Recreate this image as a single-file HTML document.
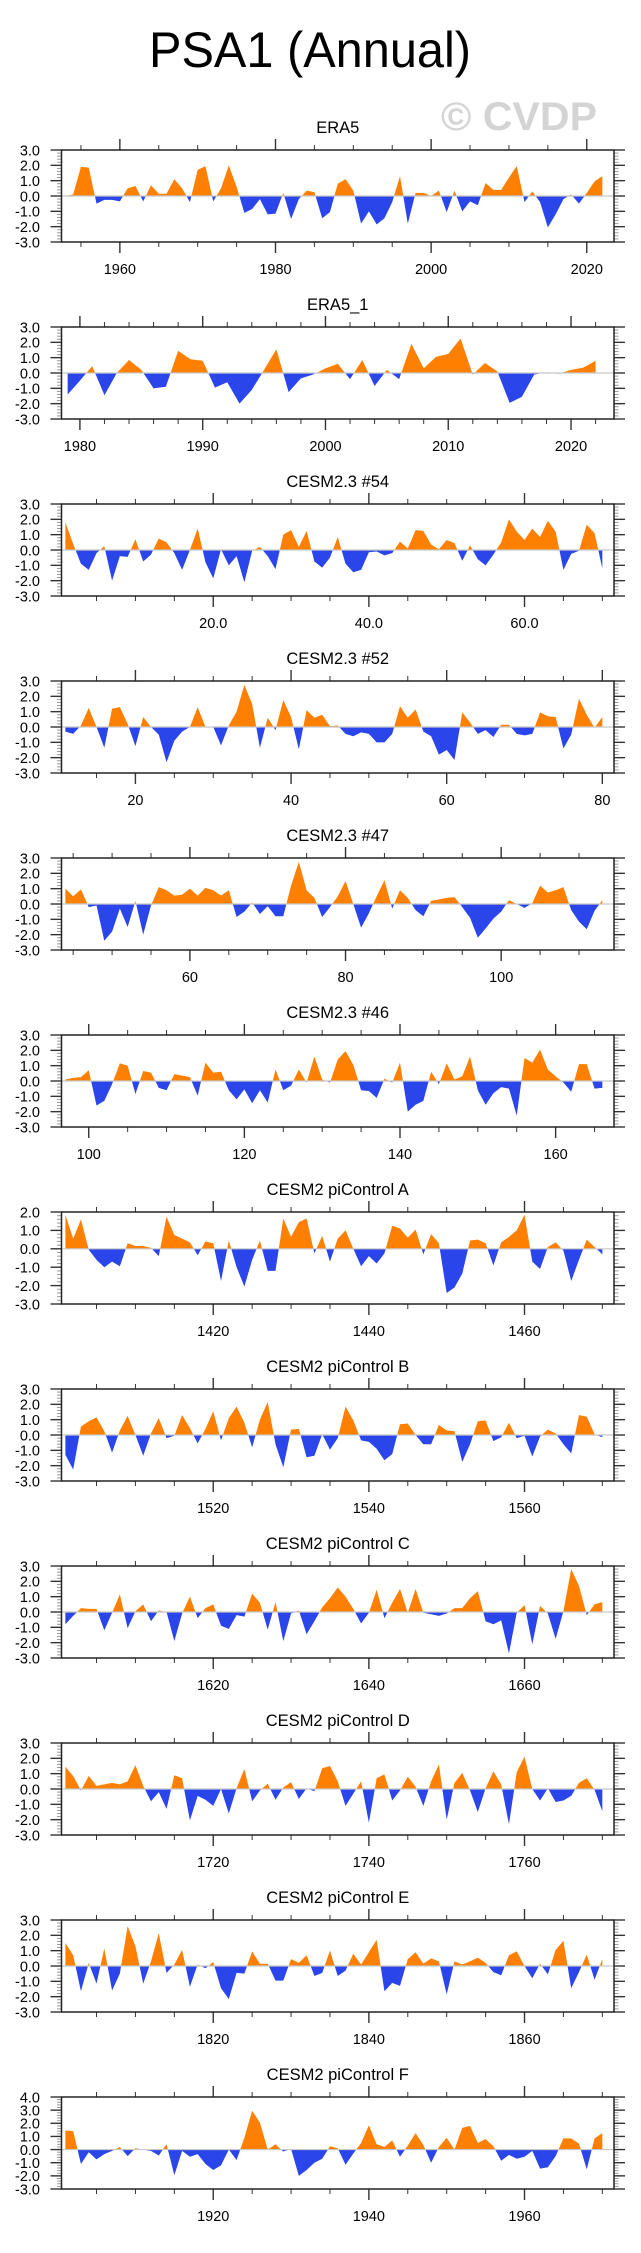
<!DOCTYPE html>
<html><head><meta charset="utf-8"><title>PSA1 (Annual)</title>
<style>
html,body{margin:0;padding:0;background:#fff;}
svg{display:block;}
text{font-family:"Liberation Sans",sans-serif;fill:#000;}
</style></head>
<body>
<svg id="chart" width="641" height="2253" viewBox="0 0 641 2253" xmlns="http://www.w3.org/2000/svg">
<text x="310" y="67" font-size="50" text-anchor="middle" textLength="322" lengthAdjust="spacingAndGlyphs">PSA1 (Annual)</text>
<text x="441" y="130" font-size="40" font-weight="bold" style="fill:#d4d4d4" textLength="156" lengthAdjust="spacingAndGlyphs">© CVDP</text>
</svg>
<script>
// ---- data arrays ----
const titles = ["ERA5","ERA5_1","CESM2.3 #54","CESM2.3 #52","CESM2.3 #47","CESM2.3 #46","CESM2 piControl A","CESM2 piControl B","CESM2 piControl C","CESM2 piControl D","CESM2 piControl E","CESM2 piControl F"];
const startYears = [1953,1979,1,11,44,97,1401,1501,1601,1701,1801,1901];
const yMins = [-3,-3,-3,-3,-3,-3,-3,-3,-3,-3,-3,-3];
const yMaxs = [3,3,3,3,3,3,2,3,3,3,3,4];
const majorSteps = [20,10,20,20,20,20,20,20,20,20,20,20];
const minorSteps = [5,2,5,5,5,5,5,5,5,5,5,5];
const labelDecimals = [0,0,1,0,0,0,0,0,0,0,0,0];
const sERA5 = [0.0,0.1,1.9,1.85,-0.5,-0.25,-0.25,-0.35,0.5,0.65,-0.35,0.7,0.15,0.15,1.1,0.5,-0.4,1.7,1.95,-0.35,0.5,2.0,0.6,-1.1,-0.85,-0.2,-1.2,-1.15,0.2,-1.5,-0.2,0.35,0.25,-1.45,-1.05,0.8,1.1,0.35,-1.8,-1.0,-1.85,-1.45,-0.4,1.3,-1.8,0.2,0.2,0.0,0.35,-1.05,0.35,-1.0,-0.35,-0.6,0.85,0.4,0.4,1.2,1.95,-0.4,0.3,-0.4,-2.05,-1.2,-0.2,0.1,-0.5,0.2,0.95,1.3];
const sERA5_1 = [-1.4,-0.5,0.45,-1.45,0.0,0.85,0.2,-1.0,-0.9,1.45,0.9,0.8,-0.95,-0.6,-2.0,-1.1,0.2,1.55,-1.25,-0.35,-0.1,0.3,0.6,-0.4,0.85,-0.85,0.2,-0.4,1.9,0.3,1.05,1.25,2.25,-0.1,0.65,0.1,-1.95,-1.55,-0.1,0.05,-0.05,0.2,0.35,0.8];
const s54 = [1.8,0.4,-0.9,-1.3,-0.2,0.25,-2.0,-0.4,-0.45,0.7,-0.75,-0.3,0.75,0.5,-0.2,-1.3,0.0,1.4,-0.8,-1.85,0.05,-1.0,-0.4,-2.1,-0.05,0.2,-0.4,-1.25,1.0,1.3,0.2,1.25,-0.75,-1.15,-0.5,0.85,-0.9,-1.45,-1.3,-0.15,-0.1,-0.35,-0.2,0.55,0.1,1.3,1.25,0.35,0.05,0.65,0.45,-0.7,0.3,-0.6,-1.0,-0.3,0.5,2.0,1.2,0.65,1.4,0.85,1.9,1.2,-1.3,-0.25,-0.05,1.65,1.1,-1.2];
const s52 = [-0.3,-0.45,0.1,1.25,0.0,-1.35,1.2,1.3,0.2,-1.25,0.65,0.0,-0.5,-2.3,-0.9,-0.3,0.0,1.3,0.0,0.0,-1.2,0.1,1.0,2.75,1.5,-1.35,0.6,-0.2,1.75,0.65,-1.45,1.1,0.6,0.8,0.05,0.1,-0.45,-0.6,-0.35,-0.45,-1.0,-1.0,-0.45,1.35,0.6,1.15,-0.3,-0.6,-1.8,-1.5,-2.15,0.95,0.3,-0.45,-0.2,-0.65,0.15,0.15,-0.45,-0.55,-0.45,0.95,0.7,0.65,-1.4,-0.5,1.85,0.8,-0.05,0.65];
const s47 = [1.0,0.5,0.95,-0.2,-0.1,-2.4,-1.8,-0.3,-1.5,0.2,-2.0,-0.1,1.1,0.9,0.55,0.6,1.0,0.55,1.05,0.9,0.55,0.9,-0.85,-0.5,0.1,-0.65,-0.15,-0.8,-0.8,1.2,2.75,0.9,0.4,-0.85,-0.2,0.5,1.5,0.0,-1.55,-0.6,0.5,1.55,-0.3,0.9,0.4,-0.4,-0.8,0.2,0.3,0.4,0.45,-0.2,-0.9,-2.2,-1.6,-0.95,-0.5,0.25,0.0,-0.25,0.05,1.2,0.75,0.9,1.1,-0.4,-1.15,-1.65,-0.45,0.25];
const s46 = [0.1,0.2,0.25,0.7,-1.6,-1.3,-0.2,1.15,1.0,-0.85,0.65,0.55,-0.45,-0.6,0.45,0.35,0.25,-0.95,1.2,0.55,0.6,-0.6,-1.2,-0.55,-1.45,-0.6,-1.4,0.75,-0.6,-0.3,0.75,-0.1,1.6,0.1,-0.1,1.4,1.95,1.05,-0.6,-0.65,-1.1,0.15,-0.1,1.2,-2.0,-1.55,-1.3,0.6,-0.2,1.15,0.1,0.3,1.6,-0.6,-1.55,-0.8,-0.4,-0.5,-2.25,1.5,1.2,2.05,0.75,0.3,-0.1,-0.7,1.1,1.1,-0.5,-0.45];
const sA = [1.85,0.55,1.6,-0.05,-0.6,-1.0,-0.7,-0.95,0.3,0.15,0.15,0.05,-0.4,1.75,0.75,0.55,0.35,-0.35,0.4,0.3,-1.75,0.45,-1.0,-2.05,-0.6,0.45,-1.2,-1.2,1.65,0.65,1.45,1.65,-0.25,0.7,-0.7,0.55,1.0,0.0,-0.95,-0.4,-0.8,-0.25,1.25,1.1,0.6,1.05,-0.3,0.8,0.3,-2.4,-2.1,-1.35,0.45,0.5,0.3,-0.9,0.35,0.65,1.0,1.85,-0.7,-1.1,0.1,0.35,-0.1,-1.75,-0.6,0.5,0.1,-0.3];
const sB = [-1.3,-2.25,0.55,0.9,1.15,0.25,-1.15,0.3,1.25,0.0,-1.35,0.1,1.1,-0.2,-0.05,1.3,0.45,-0.55,0.4,1.55,-0.35,1.1,1.85,0.8,-0.8,1.0,2.15,-0.6,-2.1,0.35,0.4,-1.45,-1.35,0.05,-0.95,-0.2,1.85,0.95,-0.35,-0.45,-0.9,-1.65,-1.25,0.7,0.75,0.0,-0.6,-0.6,0.65,0.3,0.25,-1.75,-0.6,0.9,0.95,-0.4,-0.15,0.8,-0.2,-0.05,-1.4,-0.1,0.35,0.1,-0.6,-1.2,1.3,1.2,0.05,-0.15];
const sC = [-0.8,-0.25,0.25,0.2,0.2,-1.2,-0.05,1.15,-1.05,0.05,0.5,-0.6,0.1,0.0,-1.9,-0.1,1.0,-0.4,0.25,0.5,-0.9,-1.1,-0.2,-0.3,1.2,0.6,-1.15,0.65,-1.9,-0.1,0.1,-1.45,-0.6,0.3,0.9,1.6,1.0,0.2,-0.75,-0.05,1.45,-0.4,0.6,1.5,-0.05,1.5,-0.05,-0.15,-0.25,-0.1,0.25,0.25,0.9,1.35,-0.6,-0.8,-0.55,-2.7,-0.05,0.45,-2.1,0.4,-0.1,-1.75,0.05,2.8,1.7,-0.2,0.5,0.65];
const sD = [1.45,0.85,-0.1,0.85,0.2,0.3,0.4,0.3,0.5,1.55,0.2,-0.8,-0.2,-1.3,0.9,0.7,-2.05,-0.45,-0.7,-1.1,0.0,-1.6,0.05,1.3,-0.8,-0.1,0.35,-0.7,0.1,0.45,-0.65,0.05,-0.15,1.35,1.5,0.5,-1.1,-0.3,0.5,-2.2,0.7,0.95,-0.75,-0.1,0.8,0.15,-1.1,0.5,1.6,-2.0,0.4,1.05,-0.1,-1.5,0.05,1.15,0.3,-2.3,1.1,2.1,0.0,-0.75,0.05,-0.85,-0.75,-0.45,0.4,0.7,-0.05,-1.45];
const sE = [1.5,0.7,-1.65,0.2,-1.15,1.15,-1.6,-0.5,2.6,1.3,-1.15,0.3,2.15,-0.45,0.1,1.05,-1.35,0.1,-0.15,0.25,-1.45,-2.15,-0.45,-0.5,0.95,0.15,0.15,-0.95,-0.95,0.45,0.2,0.7,-0.65,-0.45,1.0,-0.65,-0.3,0.8,0.1,0.9,1.7,-1.65,-1.1,-1.3,0.45,0.9,0.15,0.5,0.3,-1.85,0.3,0.1,0.3,0.55,0.2,-0.4,-0.6,0.7,0.95,0.0,-0.8,0.15,-0.55,1.05,1.65,-1.45,-0.4,0.75,-0.9,0.45];
const sF = [1.45,1.4,-1.1,-0.2,-0.75,-0.35,-0.1,0.2,-0.5,0.1,0.0,-0.1,-0.45,0.4,-1.95,-0.1,-0.55,-0.35,-1.1,-1.55,-1.2,0.0,-0.8,0.9,2.95,2.05,0.0,0.4,-0.15,0.05,-2.0,-1.55,-1.0,-0.7,0.25,0.1,-1.15,-0.3,0.5,1.85,0.4,0.2,0.7,-0.55,0.3,1.25,0.35,-1.0,0.2,0.9,0.0,1.65,1.8,0.5,0.8,0.25,-0.85,-0.4,-0.7,-0.55,-0.1,-1.45,-1.35,-0.5,0.85,0.85,0.45,-1.5,0.85,1.25];
const series = [sERA5,sERA5_1,s54,s52,s47,s46,sA,sB,sC,sD,sE,sF];

const NS = "http://www.w3.org/2000/svg";
const svg = document.getElementById('chart');
const BOX_L = 61.5, BOX_R = 614, BOX_H = 92, TOP0 = 150, GAP = 177;
function mk(tag, attrs, parent){ const e=document.createElementNS(NS,tag); for(const k in attrs) e.setAttribute(k,attrs[k]); (parent||svg).appendChild(e); return e; }

for(let p=0;p<titles.length;p++){
  const vals = series[p];
  const x0 = startYears[p];
  const xMin = x0 - 0.5, xMax = x0 + vals.length - 1 + 1.5;
  const yMin = yMins[p], yMax = yMaxs[p];
  const top = TOP0 + GAP*p, bot = top + BOX_H;
  const xs = v => BOX_L + (v - xMin)/(xMax - xMin)*(BOX_R - BOX_L);
  const ys = v => bot - (v - yMin)/(yMax - yMin)*BOX_H;
  const g = mk('g',{});
  
  
  const t = mk('text',{x:(BOX_L+BOX_R)/2, y:top-17, 'font-size':16.5, 'text-anchor':'middle'}, g);
  t.textContent = titles[p];
  
  
  // clip paths
  const y0 = ys(0);
  const cu = mk('clipPath',{id:'cu'+p}, g); mk('rect',{x:BOX_L,y:top,width:BOX_R-BOX_L,height:y0-top},cu);
  const cd = mk('clipPath',{id:'cd'+p}, g); mk('rect',{x:BOX_L,y:y0,width:BOX_R-BOX_L,height:bot-y0},cd);
  let d = 'M'+xs(x0).toFixed(2)+','+y0.toFixed(2);
  vals.forEach((v,i)=>{ d += ' L'+xs(x0+i).toFixed(2)+','+ys(v).toFixed(2); });
  d += ' L'+xs(x0+vals.length-1).toFixed(2)+','+y0.toFixed(2)+' Z';
  const up = mk('path',{d:d, fill:'#ff8000', 'clip-path':'url(#cu'+p+')'}, g);
  
  
  const dn = mk('path',{d:d, fill:'#2a45ea', 'clip-path':'url(#cd'+p+')'}, g);
  
  
  const zl = mk('line',{x1:BOX_L,x2:BOX_R,y1:y0,y2:y0,stroke:'#c8c8c8','stroke-width':1.2}, g);
  
  
  // x ticks
  const mj = majorSteps[p], mn = minorSteps[p];
  for(let v=Math.ceil(xMin/mn)*mn; v<=xMax; v+=mn){
    const X = xs(v), major = (v % mj === 0), L = major ? 11 : 5;
    mk('line',{x1:X,x2:X,y1:top,y2:top-L,stroke:'#333','stroke-width':major?1.4:1}, g);
    mk('line',{x1:X,x2:X,y1:bot,y2:bot+L,stroke:'#333','stroke-width':major?1.4:1}, g);
    if(major){
      const lab = mk('text',{x:X,y:bot+32,'font-size':14.5,'text-anchor':'middle'}, g);
      lab.textContent = labelDecimals[p] ? v.toFixed(1) : String(v);
      
      
    }
  }
  // y ticks
  for(let k=Math.round(yMin*5); k<=Math.round(yMax*5); k++){
    const v = k/5, Y = ys(v), major = (k % 5 === 0), L = major ? 11 : 4.5;
    mk('line',{x1:BOX_L,x2:BOX_L-L,y1:Y,y2:Y,stroke:major?'#333':'#999','stroke-width':major?1.4:1}, g);
    mk('line',{x1:BOX_R,x2:BOX_R+L,y1:Y,y2:Y,stroke:major?'#333':'#999','stroke-width':major?1.4:1}, g);
    if(major){
      const lab = mk('text',{x:40,y:Y+5.3,'font-size':14.5,'text-anchor':'end'}, g);
      lab.textContent = v.toFixed(1);
      
      
    }
  }
  const box = mk('rect',{x:BOX_L,y:top,width:BOX_R-BOX_L,height:BOX_H,fill:'none',stroke:'#222','stroke-width':1.5}, g);
  
  
}
</script>
</body></html>
